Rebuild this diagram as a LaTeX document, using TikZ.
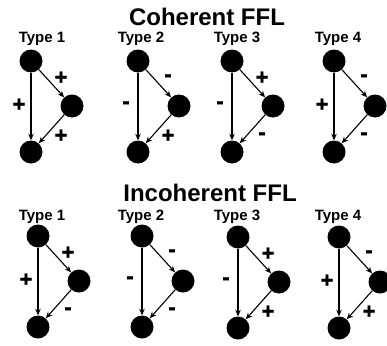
\documentclass[tikz,border=0pt]{standalone}
\usepackage{fontspec}
\setmainfont{Liberation Sans}
\newfontfamily\signfont[FakeBold=1.5]{Liberation Sans Bold}
\usetikzlibrary{arrows.meta}

\begin{document}
\begin{tikzpicture}[x=1pt, y=-1pt,
    every node/.style={font=\bfseries},
    gene/.style={circle, fill=black, minimum size=23pt, inner sep=0pt},
    arr/.style={-{Stealth[length=6.5pt, width=5.5pt]}, line width=1.1pt},
    sgn/.style={font=\signfont\fontsize{22}{22}\selectfont, inner sep=0pt},
    ttl/.style={font=\bfseries\fontsize{24}{24}\selectfont, inner sep=0pt},
    typ/.style={font=\bfseries\fontsize{15}{15}\selectfont, inner sep=0pt}
  ]
  \useasboundingbox (0,0) rectangle (387,345);
  \node[ttl] (coh) at (207,17) {Coherent FFL};
  \node[ttl] (inc) at (210,193) {Incoherent FFL};
  % type headers of both rows
  \foreach \i/\x in {1/42,2/141,3/237,4/338} {
    \node[typ] (hc\i) at (\x,39) {Type \i};
    \node[typ] (hi\i) at (\x,217) {Type \i};
  }
  % one loop: top node, then signs of direct, upper and lower edge
  \foreach \n/\x/\y/\a/\b/\c in {c1/31/61/+/+/+, c2/138/61/-/-/+,
      c3/232/61/-/+/-, c4/334/61/+/-/-, i1/38/236/+/+/-,
      i2/142/236/-/-/-, i3/238/237/-/+/+, i4/339/237/+/-/+} {
    \node[gene] (s\n) at (\x,\y) {};
    \node[gene] (m\n) at (\x+41,\y+45) {};
    \node[gene] (t\n) at (\x,\y+91) {};
    \draw[arr] (s\n) -- (t\n);
    \draw[arr] (s\n) -- (m\n);
    \draw[arr] (m\n) -- (t\n);
    \node[sgn] (a\n) at (\x-12,\y+44) {\a};
    \node[sgn] (b\n) at (\x+30,\y+17) {\b};
    \node[sgn] (c\n) at (\x+30,\y+75) {\c};
  }
\end{tikzpicture}
\end{document}
